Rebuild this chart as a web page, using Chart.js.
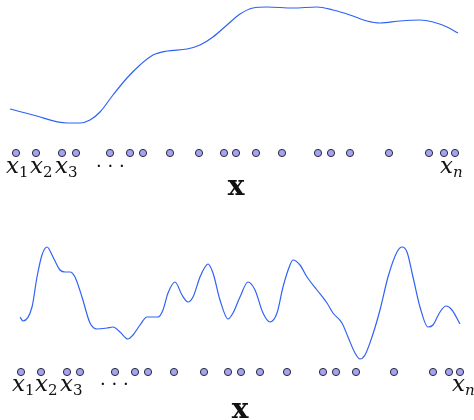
<!DOCTYPE html>
<html>
<head>
<meta charset="utf-8">
<script src="https://cdn.jsdelivr.net/npm/chart.js@4/dist/chart.umd.min.js"></script>
<style>
  body { margin: 0; background: #fff; }
  .panel { width: 474px; height: 210px; position: relative; }
</style>
</head>
<body>
<div class="panel"><canvas id="top-chart" width="474" height="210"></canvas></div>
<div class="panel"><canvas id="bottom-chart" width="474" height="210"></canvas></div>
<script>
// smooth function (top panel)
const topCurveX = [10, 33, 67, 80, 90, 100, 113, 127, 140, 153, 167, 187, 200, 213, 227, 240, 253, 267, 293, 317, 333, 350, 367, 380, 400, 420, 433, 447, 458];
const topCurveY = [101, 95, 87, 87, 90, 98, 115, 132, 145, 155, 159, 161, 165, 173, 185, 196, 202, 203, 202, 203, 200, 195, 189, 187, 189, 190, 188, 183, 177];

// wiggly function (bottom panel)
const bottomCurveX = [20, 23, 32, 37, 42, 47, 53, 60, 65, 70, 75, 82, 90, 97, 107, 113, 120, 128, 133, 140, 147, 153, 158, 163, 168, 175, 182, 188, 193, 200, 205, 208, 213, 220, 228, 233, 240, 248, 255, 263, 270, 277, 283, 290, 293, 300, 307, 317, 327, 333, 342, 348, 355, 360, 365, 372, 380, 388, 397, 402, 407, 413, 420, 428, 433, 440, 446, 452, 460];
const bottomCurveY = [103, 99, 113, 143, 165, 173, 163, 150, 148, 148, 143, 123, 97, 91, 92, 93, 88, 81, 85, 95, 103, 103, 103, 110, 127, 138, 125, 118, 123, 143, 153, 156, 147, 120, 101, 107, 123, 138, 130, 107, 98, 107, 133, 155, 160, 155, 143, 130, 117, 107, 97, 83, 67, 61, 65, 83, 110, 143, 168, 173, 168, 143, 113, 93, 95, 108, 114, 110, 96];

// sample locations x_1 ... x_n
const topSamples = [16, 36, 62, 76, 110, 130, 143, 170, 199, 224, 236, 256, 282, 318, 331, 350, 389, 429, 444, 455];
const bottomSamples = [21, 41, 67, 80, 115, 135, 148, 174, 204, 228, 241, 260, 287, 323, 336, 356, 394, 433, 449, 460];

const sampleNames = ['x|1', 'x|2', 'x|3', '\u00b7 \u00b7 \u00b7', 'x|n'];
const axisName = 'x';

const curveColor = '#2f62f5';
const dotFill = '#a3a3f2';
const dotBorder = '#2a2a3a';

// draws x_1 x_2 x_3 ... x_n and the bold axis letter under the dots
const mathLabels = {
    id: 'mathLabels',
    afterDraw(chart, args, opts) {
        const ctx = chart.ctx;
        const xs = chart.scales.x;
        const ys = chart.scales.y;
        const base = ys.getPixelForValue(opts.baseline);
        ctx.save();
        ctx.fillStyle = '#111';
        ctx.textBaseline = 'alphabetic';
        ctx.textAlign = 'left';
        sampleNames.forEach((name, i) => {
            let px = xs.getPixelForValue(opts.positions[i]);
            if (name.indexOf('|') < 0) {
                ctx.font = '18px "DejaVu Serif"';
                ctx.fillText(name, px, base - 1);
                return;
            }
            const parts = name.split('|');
            ctx.font = 'italic 23px "DejaVu Serif"';
            ctx.fillText(parts[0], px, base);
            px += ctx.measureText(parts[0]).width;
            ctx.font = (parts[1] === 'n' ? 'italic ' : '') + '15px "DejaVu Serif"';
            ctx.fillText(parts[1], px, base + 4);
        });
        ctx.font = 'bold 28px "DejaVu Serif"';
        ctx.textAlign = 'center';
        ctx.fillText(axisName, xs.getPixelForValue(opts.titleX), ys.getPixelForValue(opts.titleY));
        ctx.restore();
    }
};

function makeChart(id, curveX, curveY, samples, dotLevel, labelOpts) {
    return new Chart(document.getElementById(id), {
        type: 'scatter',
        data: {
            datasets: [{
                label: 'f(x)',
                data: curveX.map((x, i) => ({ x: x, y: curveY[i] })),
                showLine: true,
                borderColor: curveColor,
                borderWidth: 1.2,
                pointRadius: 0,
                cubicInterpolationMode: 'monotone'
            }, {
                label: 'samples',
                data: samples.map(x => ({ x: x, y: dotLevel })),
                pointRadius: 3.6,
                pointBackgroundColor: dotFill,
                pointBorderColor: dotBorder,
                pointBorderWidth: 1
            }]
        },
        options: {
            responsive: false,
            animation: false,
            clip: false,
            layout: { padding: 0, autoPadding: false },
            plugins: {
                legend: { display: false },
                tooltip: { enabled: false },
                mathLabels: labelOpts
            },
            scales: {
                x: { type: 'linear', display: false, min: 0, max: 474 },
                y: { display: false, min: 0, max: 210 }
            }
        },
        plugins: [mathLabels]
    });
}

makeChart('top-chart', topCurveX, topCurveY, topSamples, 57,
    { positions: [6, 30, 55, 96, 440], baseline: 37, titleX: 236, titleY: 15 });
makeChart('bottom-chart', bottomCurveX, bottomCurveY, bottomSamples, 48,
    { positions: [12, 35, 60, 100, 452], baseline: 29, titleX: 240, titleY: 2 });
</script>
</body>
</html>
